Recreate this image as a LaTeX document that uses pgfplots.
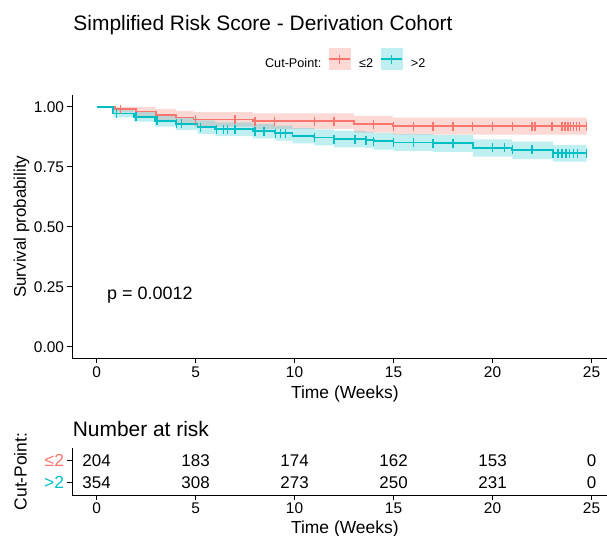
\documentclass[border=0pt]{standalone}
\usepackage{fontspec}
\setmainfont{Liberation Sans}
\usepackage{pgfplots}
\pgfplotsset{compat=1.18}
\usepackage{pgfplotstable}
\definecolor{kmred}{HTML}{F8766D}
\definecolor{kmcyan}{HTML}{00BFC4}

\pgfplotstableread{
t S
0 1.000
0.92 0.990
1.98 0.980
3.00 0.966
4.00 0.955
4.90 0.947
7.90 0.940
13.00 0.927
14.95 0.918
24.75 0.918
}\redtab

\pgfplotstableread{
t S
0 1.000
0.85 0.972
1.90 0.958
2.95 0.941
4.00 0.928
5.10 0.915
6.00 0.906
7.90 0.898
9.00 0.890
9.90 0.879
11.00 0.872
12.00 0.865
13.60 0.861
14.00 0.856
15.00 0.851
17.00 0.848
19.00 0.829
21.00 0.820
23.05 0.807
24.75 0.807
}\cyantab

\pgfplotstableread{
t S
1.2 0.990
5.0 0.947
7.0 0.947
8.0 0.940
9.0 0.940
11.0 0.940
12.0 0.940
14.0 0.927
15.0 0.918
16.0 0.918
17.0 0.918
18.0 0.918
19.0 0.918
20.0 0.918
21.0 0.918
22.0 0.918
22.15 0.918
23.0 0.918
23.5 0.918
23.65 0.918
23.8 0.918
23.95 0.918
24.1 0.918
24.25 0.918
24.4 0.918
24.75 0.918
}\redmarks

\pgfplotstableread{
t S
1.0 0.972
2.0 0.958
3.05 0.941
4.05 0.928
4.3 0.928
5.25 0.915
6.05 0.906
6.4 0.906
6.6 0.906
7.0 0.906
8.0 0.898
8.45 0.898
9.05 0.890
9.3 0.890
9.55 0.890
11.0 0.872
12.0 0.865
13.05 0.865
13.6 0.861
14.0 0.856
15.0 0.851
16.0 0.851
17.0 0.848
18.0 0.848
20.0 0.829
20.6 0.829
21.0 0.820
22.0 0.820
23.05 0.807
23.3 0.807
23.5 0.807
23.7 0.807
23.9 0.807
24.1 0.807
24.3 0.807
24.75 0.807
}\cyanmarks

\begin{document}
\begin{tikzpicture}
\useasboundingbox (0bp,0bp) rectangle (607bp,536bp);
\pgfplotsset{
  kmaxis/.style={
    scale only axis, clip=false,
    width=535bp,
    xmin=-1.24, xmax=25.78,
    axis x line*=bottom, axis y line*=left,
    axis line style={line width=1bp, black},
    tick style={line width=1bp, black},
    tick align=outside, major tick length=4.5bp,
    xtick={0,5,10,15,20,25},
    /pgf/number format/assume math mode=true,
    tick label style={font=\fontsize{15.5}{18}\selectfont, black},
  }
}
\begin{axis}[kmaxis,
  at={(72bp,177.3bp)}, anchor=south west,
  height=264bp,
  ymin=-0.05, ymax=1.05,
  ytick={0,0.25,0.5,0.75,1},
  yticklabel style={/pgf/number format/.cd, fixed, fixed zerofill, precision=2},
  xlabel={Time (Weeks)},
  xlabel style={at={(axis description cs:0.510,-0.133)}, anchor=center, font=\fontsize{17.5}{20}\selectfont},
  ylabel={Survival probability},
  ylabel style={at={(axis description cs:-0.0944,0.5)}, anchor=center, font=\fontsize{17}{20}\selectfont},
  legend style={draw=none, fill=none, legend columns=-1,
    at={(axis description cs:0.340,1.133)}, anchor=west,
    font=\fontsize{12.7}{15}\selectfont, column sep=5bp,
    /tikz/every odd column/.append style={column sep=6bp}},
]
% confidence bands (upper edge forward, lower edge back)
\addplot[fill=kmred, fill opacity=0.28, draw=none, forget plot] coordinates {
(0,1.000) (0.92,1.000) (1.98,1.000) (1.98,0.999) (3.00,0.999) (3.00,0.991) (4.00,0.991) (4.00,0.983) (4.90,0.983) (4.90,0.977) (7.90,0.977) (7.90,0.972) (13.00,0.972) (13.00,0.962) (14.95,0.962) (14.95,0.954) (24.75,0.954)
(24.75,0.884) (14.95,0.884) (14.95,0.892) (13.00,0.892) (13.00,0.908) (7.90,0.908) (7.90,0.917) (4.90,0.917) (4.90,0.927) (4.00,0.927) (4.00,0.941) (3.00,0.941) (3.00,0.961) (1.98,0.961) (1.98,0.976) (0.92,0.976) (0.92,1.000) (0,1.000)
};
\addplot[fill=kmcyan, fill opacity=0.25, draw=none, forget plot] coordinates {
(0,1.000) (0.85,1.000) (0.85,0.988) (1.90,0.988) (1.90,0.978) (2.95,0.978) (2.95,0.965) (4.00,0.965) (4.00,0.954) (5.10,0.954) (5.10,0.943) (6.00,0.943) (6.00,0.935) (7.90,0.935) (7.90,0.928) (9.00,0.928) (9.00,0.921) (9.90,0.921) (9.90,0.911) (11.00,0.911) (11.00,0.905) (12.00,0.905) (12.00,0.899) (13.60,0.899) (13.60,0.895) (14.00,0.895) (14.00,0.891) (15.00,0.891) (15.00,0.886) (17.00,0.886) (17.00,0.883) (19.00,0.883) (19.00,0.864) (21.00,0.864) (21.00,0.854) (23.05,0.854) (23.05,0.840) (24.75,0.840)
(24.75,0.771) (23.05,0.771) (23.05,0.782) (21.00,0.782) (21.00,0.792) (19.00,0.792) (19.00,0.812) (17.00,0.812) (17.00,0.816) (15.00,0.816) (15.00,0.821) (14.00,0.821) (14.00,0.827) (13.60,0.827) (13.60,0.831) (12.00,0.831) (12.00,0.839) (11.00,0.839) (11.00,0.847) (9.90,0.847) (9.90,0.859) (9.00,0.859) (9.00,0.868) (7.90,0.868) (7.90,0.877) (6.00,0.877) (6.00,0.887) (5.10,0.887) (5.10,0.902) (4.00,0.902) (4.00,0.917) (2.95,0.917) (2.95,0.938) (1.90,0.938) (1.90,0.956) (0.85,0.956) (0.85,1.000) (0,1.000)
};

\addplot[const plot, kmred, line width=1.8bp, forget plot] table[x=t,y=S]{\redtab};
\addplot[only marks, mark=|, mark size=4.5bp, kmred, mark options={line width=1.4bp}, forget plot] table[x=t,y=S]{\redmarks};
\addplot[const plot, kmcyan, line width=1.8bp, forget plot] table[x=t,y=S]{\cyantab};
\addplot[only marks, mark=|, mark size=4.5bp, kmcyan, mark options={line width=1.4bp}, forget plot] table[x=t,y=S]{\cyanmarks};

\addlegendimage{empty legend}
\addlegendentry{Cut-Point:}
\addlegendimage{legend image code/.code={
  \fill[kmred!28] (0bp,-6bp) rectangle (21bp,15bp);
  \draw[kmred, line width=1.8bp] (0bp,4.5bp) -- (21bp,4.5bp);
  \draw[kmred, line width=1.4bp] (10.5bp,0bp) -- (10.5bp,9bp);
}}
\addlegendentry{≤2}
\addlegendimage{legend image code/.code={
  \fill[kmcyan!25] (0bp,-6bp) rectangle (21bp,15bp);
  \draw[kmcyan, line width=1.8bp] (0bp,4.5bp) -- (21bp,4.5bp);
  \draw[kmcyan, line width=1.4bp] (10.5bp,0bp) -- (10.5bp,9bp);
}}
\addlegendentry{>2}

\node[anchor=base west, inner sep=0, font=\fontsize{18}{21}\selectfont] at (axis cs:0.53,0.197) {p = 0.0012};
\node[anchor=base west, inner sep=0, font=\fontsize{21}{25}\selectfont] at (axis description cs:0.0024,1.245) {Simplified Risk Score - Derivation Cohort};
\end{axis}

\begin{axis}[kmaxis,
  at={(72bp,41bp)}, anchor=south west,
  height=47bp,
  ymin=0.4, ymax=2.6,
  ytick={1,2},
  yticklabels={\textcolor{kmcyan}{>2},\textcolor{kmred}{≤2}},
  yticklabel style={font=\fontsize{17.5}{20}\selectfont},
  xlabel={Time (Weeks)},
  xlabel style={at={(axis description cs:0.510,-0.72)}, anchor=center, font=\fontsize{17.5}{20}\selectfont},
  ylabel={Cut-Point:},
  ylabel style={at={(axis description cs:-0.0963,0.5)}, anchor=center, font=\fontsize{17.5}{20}\selectfont},
]
\addplot[only marks, mark=*, mark size=0pt, mark options={draw=none, fill=none},
  nodes near coords, point meta=explicit symbolic,
  every node near coord/.append style={anchor=center, font=\fontsize{17}{20}\selectfont, black}]
  coordinates {
  (0,2) [204] (5,2) [183] (10,2) [174] (15,2) [162] (20,2) [153] (25,2) [0]
  (0,1) [354] (5,1) [308] (10,1) [273] (15,1) [250] (20,1) [231] (25,1) [0]
  };
\node[anchor=base west, inner sep=0, font=\fontsize{21}{25}\selectfont] at (axis description cs:0.0013,1.255) {Number at risk};
\end{axis}
\end{tikzpicture}
\end{document}
